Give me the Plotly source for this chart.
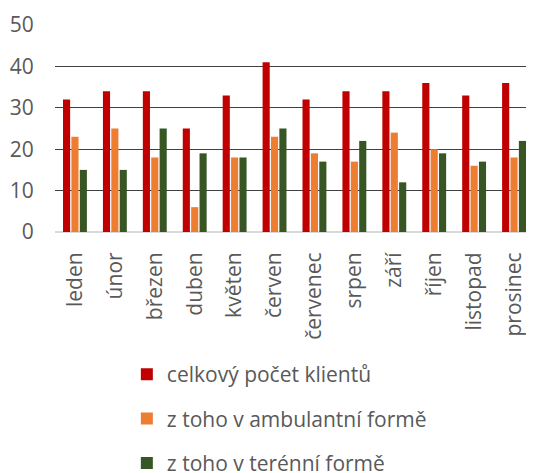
import plotly.graph_objects as go

months = ["leden", "únor", "březen", "duben", "květen", "červen",
          "červenec", "srpen", "září", "říjen", "listopad", "prosinec"]
celkem = [32, 34, 34, 25, 33, 41, 32, 34, 34, 36, 33, 36]
ambulantni = [23, 25, 18, 6, 18, 23, 19, 17, 24, 20, 16, 18]
terenni = [15, 15, 25, 19, 18, 25, 17, 22, 12, 19, 17, 22]
names = ["celkový počet klientů", "z toho v ambulantní formě", "z toho v terénní formě"]
colors = ["#C00000", "#ED7D31", "#375623"]

fig = go.Figure()
for i, (vals, nm, col) in enumerate(zip([celkem, ambulantni, terenni], names, colors)):
    fig.add_trace(go.Bar(x=months, y=vals, name=nm, marker_color=col,
                         marker_line_width=0, legendgroup=str(i)))

font = "Open Sans"
fig.update_layout(
    width=526, height=465,
    margin=dict(l=47, r=0, t=17, b=241, autoexpand=False),
    paper_bgcolor="white", plot_bgcolor="white",
    barmode="group", bargap=0.37, bargroupgap=0.15,
    font=dict(family=font, color="#595959"),
    showlegend=True,
    legend=dict(orientation="v", x=0.15, xanchor="left", y=-0.59, yanchor="top",
                font=dict(size=21, color="#595959"), tracegroupgap=14,
                traceorder="grouped", itemwidth=30),
    xaxis=dict(tickangle=-90, tickfont=dict(size=21, color="#595959"),
               showline=False, ticks="outside", ticklen=11, tickcolor="rgba(0,0,0,0)",
               showgrid=False, automargin=False),
    yaxis=dict(range=[0, 50], dtick=10, tickfont=dict(size=21, color="#595959"),
               showgrid=True, gridcolor="#404040", gridwidth=1,
               zeroline=True, zerolinecolor="#D9D9D9", zerolinewidth=2,
               ticks="outside", ticklen=16, tickcolor="rgba(0,0,0,0)", showline=False,
               automargin=False),
)
fig.write_html("out.html")
